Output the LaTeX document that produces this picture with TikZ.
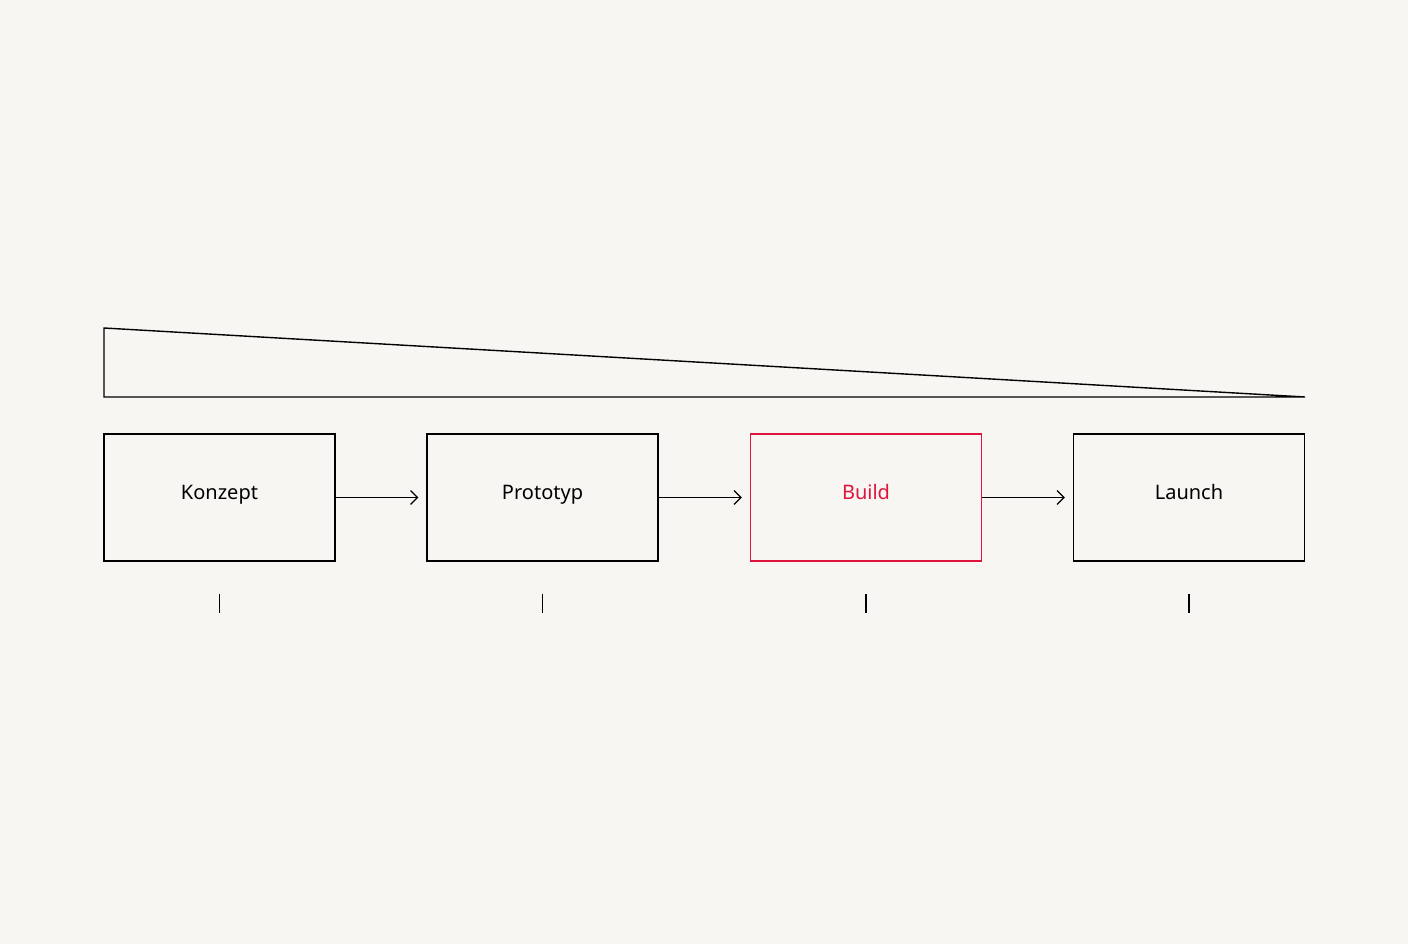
\documentclass[tikz,border=0pt]{standalone}
\usepackage{fontspec}
\setmainfont{Noto Sans}
\usetikzlibrary{arrows.meta}
\definecolor{bg}{HTML}{F7F6F3}
\definecolor{accent}{HTML}{E0143C}
\begin{document}
\begin{tikzpicture}[x=1pt,y=-1pt,
  box/.style={draw=black,line width=1.2pt,minimum width=231pt,minimum height=127pt,inner sep=0pt,text height=11pt,text depth=7pt,font=\fontsize{20}{23}\selectfont},
  conn/.style={line width=1.2pt,shorten >=8pt,-{Straight Barb[length=7pt,width=14pt]}},
  tick/.style={line width=1.2pt}]
\fill[bg] (0,0) rectangle (1408,944);
\useasboundingbox (0,0) rectangle (1408,944);
\draw[line width=1.4pt,line join=miter] (104,328) -- (104,397) -- (1305,397) -- cycle;
\node[box] (k) at (219.5,497.5) {Konzept};
\node[box] (p) at (542.5,497.5) {Prototyp};
\node[box,draw=accent,text=accent] (b) at (866,497.5) {Build};
\node[box] (l) at (1189,497.5) {Launch};
\draw[conn] (k) -- (p);
\draw[conn] (p) -- (b);
\draw[conn] (b) -- (l);
\foreach \n/\x in {k/219.5,p/542.5,b/866,l/1189}{
  \coordinate (\n t1) at (\x,594);
  \coordinate (\n t2) at (\x,613);
  \draw[tick] (\n t1) -- (\n t2);
}
\end{tikzpicture}
\end{document}
